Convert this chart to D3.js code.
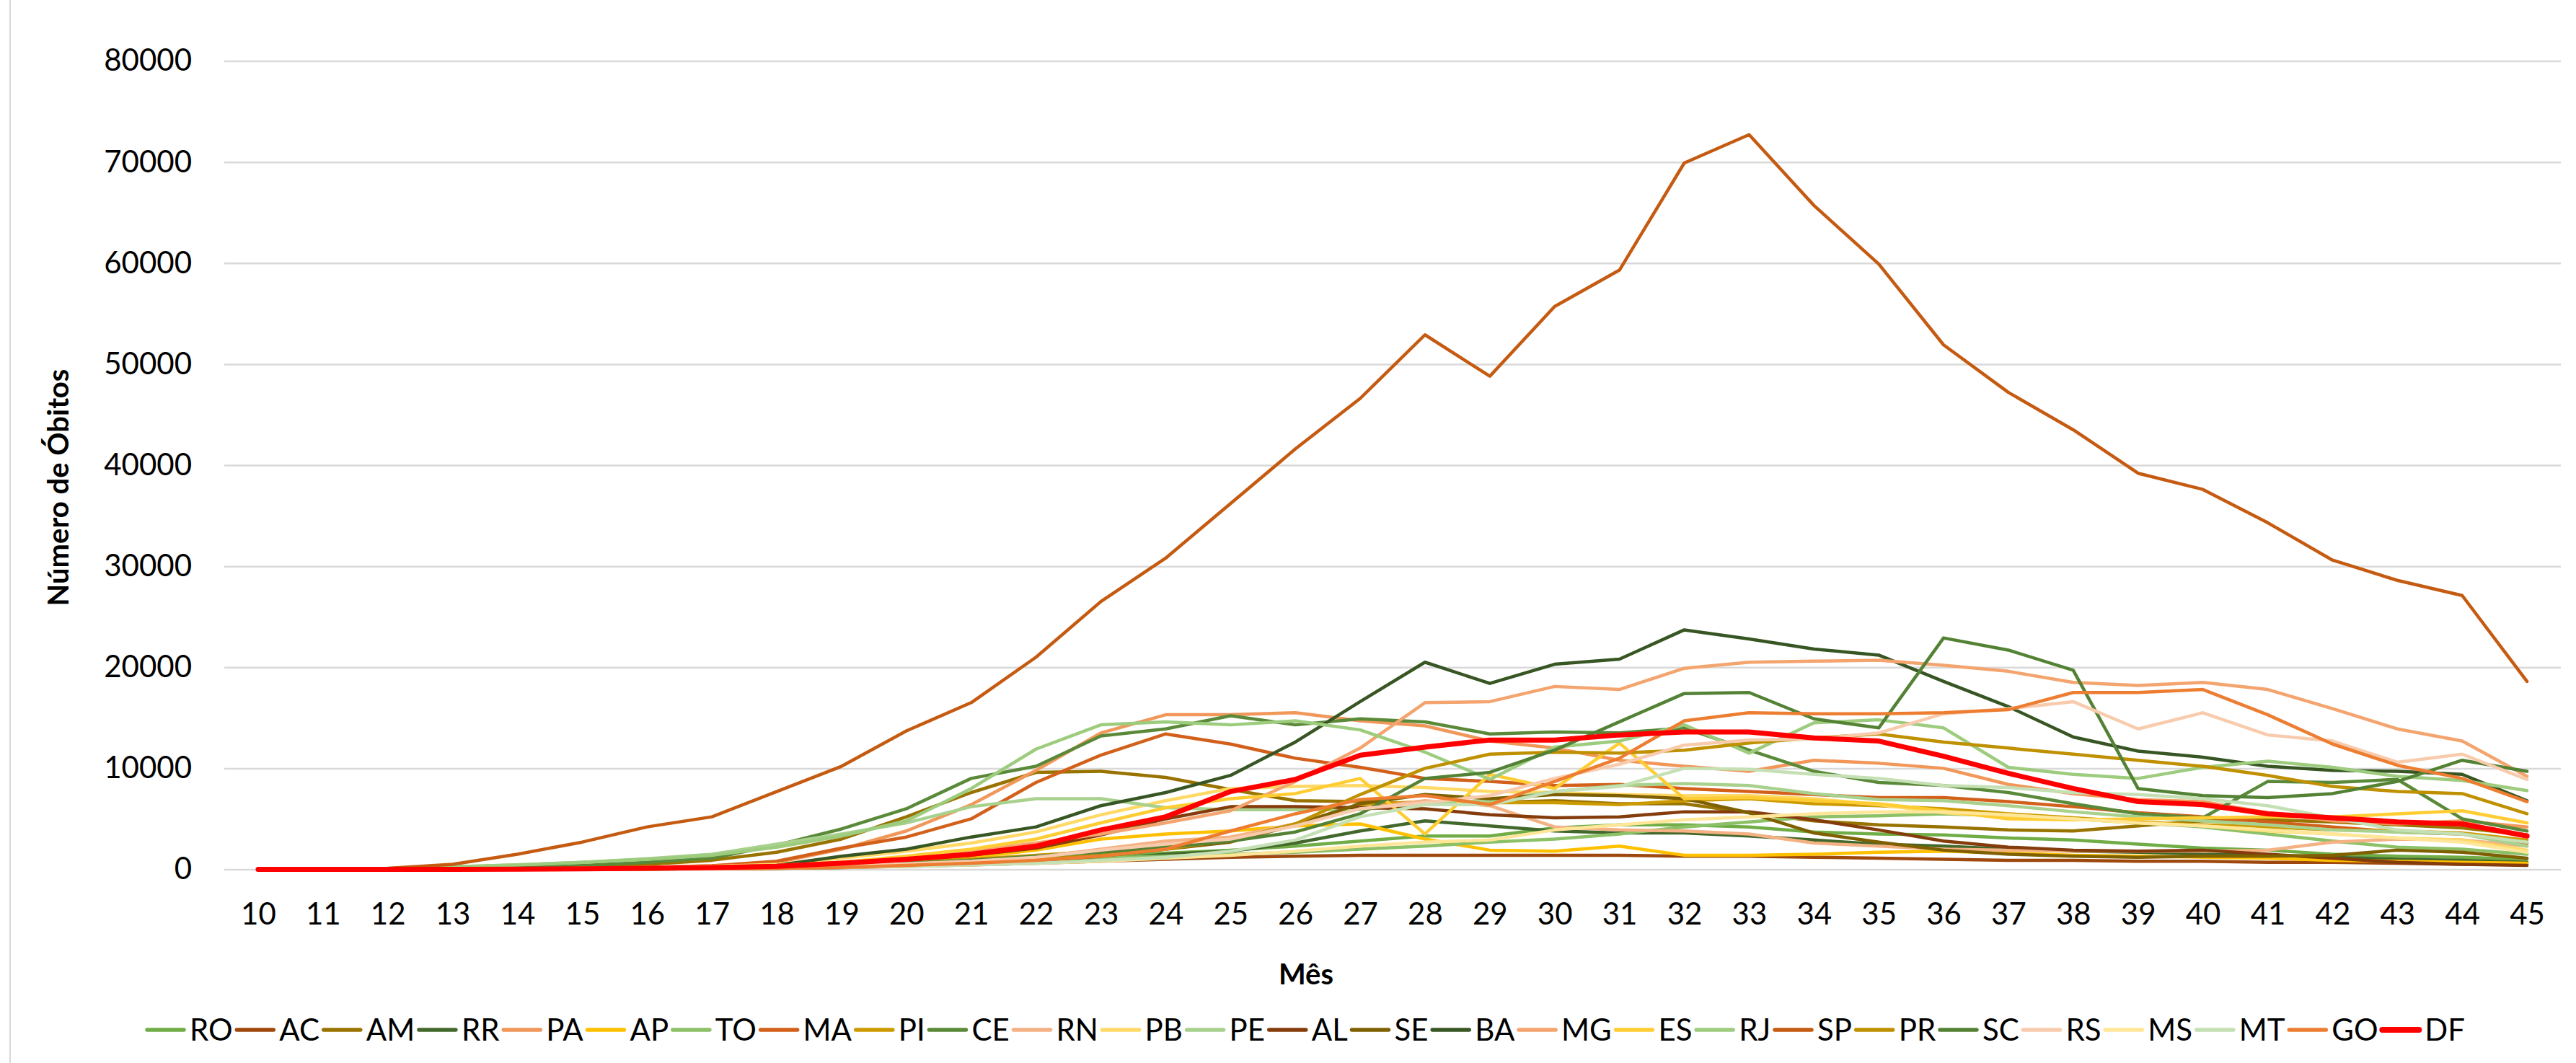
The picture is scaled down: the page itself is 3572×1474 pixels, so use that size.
<!DOCTYPE html>
<html>
<head>
<meta charset="utf-8">
<script src="https://cdn.jsdelivr.net/npm/d3@7"></script>
<style>
  body { margin: 0; background: #ffffff; }
  text { font-family: Lato, "Open Sans", sans-serif; fill: #000000; }
</style>
</head>
<body>
<div id="chart"></div>
<script>
// Categories (month index)
const months = ["10", "11", "12", "13", "14", "15", "16", "17", "18", "19",
  "20", "21", "22", "23", "24", "25", "26", "27", "28", "29", "30", "31",
  "32", "33", "34", "35", "36", "37", "38", "39", "40", "41", "42", "43",
  "44", "45"];

const yTicks = [0, 10000, 20000, 30000, 40000, 50000, 60000, 70000, 80000];

const states = ["RO", "AC", "AM", "RR", "PA", "AP", "TO", "MA", "PI", "CE",
  "RN", "PB", "PE", "AL", "SE", "BA", "MG", "ES", "RJ", "SP", "PR", "SC",
  "RS", "MS", "MT", "GO", "DF"];

// Deaths per month, one array per state (months 10..45)
const RO = [0, 0, 0, 10, 20, 40, 80, 120, 200, 350, 600, 800, 1000, 1300, 1600, 1900, 2300, 2800, 3300, 3300, 4100, 4400, 4400, 4200, 3700, 3500, 3400, 3100, 2900, 2500, 2100, 1900, 1500, 1300, 1200, 1000];
const AC = [0, 0, 0, 0, 10, 20, 40, 70, 110, 180, 300, 450, 600, 800, 1000, 1200, 1300, 1400, 1400, 1400, 1400, 1400, 1300, 1300, 1200, 1100, 1000, 900, 900, 800, 800, 700, 700, 600, 500, 500];
const AM = [0, 0, 50, 100, 200, 300, 500, 900, 1700, 3000, 5200, 7600, 9600, 9700, 9100, 7900, 6800, 6700, 6500, 6600, 6800, 6500, 6500, 5600, 4800, 4400, 4200, 3900, 3800, 4300, 4800, 4900, 4700, 4400, 4100, 3400];
const RR = [0, 0, 0, 0, 10, 20, 40, 70, 120, 250, 400, 550, 700, 900, 1500, 1800, 2600, 3800, 4800, 4300, 3800, 3600, 3600, 3300, 2900, 2500, 2300, 2000, 1800, 1700, 1500, 1400, 1200, 1000, 900, 700];
const PA = [0, 0, 0, 20, 50, 100, 200, 350, 700, 2000, 3800, 6400, 9800, 13500, 15300, 15300, 15500, 14700, 14200, 12700, 12000, 10800, 10200, 9700, 10800, 10500, 10000, 8400, 7500, 6900, 6700, 5600, 4800, 4500, 4800, 4200];
const AP = [0, 0, 0, 0, 10, 30, 60, 100, 200, 450, 800, 1200, 1900, 3000, 3500, 3800, 4300, 4500, 3000, 1900, 1800, 2300, 1400, 1400, 1500, 1700, 1800, 1600, 1400, 1300, 1200, 1100, 900, 800, 700, 600];
const TO = [0, 0, 10, 30, 50, 80, 120, 180, 250, 350, 500, 700, 900, 1100, 1300, 1500, 1700, 2000, 2300, 2700, 3000, 3500, 4200, 4700, 5200, 5300, 5500, 5300, 5000, 4600, 4200, 3500, 2800, 2200, 2000, 1500];
const MA = [0, 0, 0, 20, 50, 100, 200, 350, 800, 2100, 3200, 5000, 8600, 11300, 13400, 12400, 11000, 10100, 9000, 8700, 8300, 8400, 8000, 7700, 7400, 7100, 7100, 6700, 6200, 5600, 5200, 4700, 4200, 3700, 3500, 2600];
const PI = [0, 0, 0, 10, 20, 40, 80, 130, 220, 400, 700, 1000, 1400, 1800, 2300, 3100, 4500, 6400, 6700, 6600, 6600, 6400, 6800, 7000, 6500, 6300, 6000, 5500, 5100, 4700, 4400, 4200, 3900, 3800, 3600, 2900];
const CE = [0, 0, 30, 100, 200, 400, 700, 1100, 2400, 4000, 6000, 9000, 10200, 13200, 13900, 15200, 14300, 14900, 14600, 13400, 13600, 13500, 14000, 11800, 9700, 8600, 8300, 7600, 6500, 5500, 5100, 8700, 8600, 8900, 5000, 3800];
const RN = [0, 0, 0, 10, 20, 40, 70, 110, 180, 300, 500, 800, 1200, 2000, 2800, 3200, 4500, 6000, 6800, 6300, 4200, 3900, 3800, 3500, 2600, 2300, 2000, 1900, 1800, 1800, 1800, 1900, 2700, 3000, 2900, 2300];
const PB = [0, 0, 0, 20, 50, 100, 180, 300, 500, 1100, 1800, 2600, 3700, 5400, 6800, 8000, 8200, 8300, 8100, 7700, 7600, 7400, 7300, 7300, 7000, 6400, 5600, 5200, 5000, 4600, 4300, 3800, 3500, 3100, 2900, 1900];
const PE = [0, 0, 50, 250, 450, 700, 1050, 1500, 2500, 3500, 4600, 6200, 7000, 7000, 6100, 5900, 5900, 5900, 6500, 6800, 7700, 8300, 8500, 8300, 7500, 6900, 6800, 6300, 5700, 5200, 4800, 4400, 3900, 3700, 3500, 2300];
const AL = [0, 0, 0, 10, 20, 40, 80, 150, 250, 500, 900, 1400, 2100, 3400, 5000, 6200, 6200, 6100, 6000, 5400, 5100, 5200, 5700, 5700, 4900, 3900, 2800, 2200, 1900, 1800, 1900, 1500, 1100, 700, 500, 400];
const SE = [0, 0, 0, 0, 10, 20, 40, 60, 100, 200, 350, 500, 800, 1300, 2000, 2700, 4400, 6500, 7400, 7000, 7400, 7300, 7000, 5600, 3600, 2700, 1900, 1500, 1300, 1200, 1300, 1300, 1400, 1900, 1700, 1100];
const BA = [0, 0, 0, 10, 30, 60, 100, 200, 400, 1300, 2000, 3200, 4200, 6300, 7600, 9300, 12600, 16600, 20500, 18400, 20300, 20800, 23700, 22800, 21800, 21200, 18600, 16100, 13100, 11700, 11100, 10200, 9800, 9700, 9400, 6800];
const MG = [0, 0, 0, 20, 50, 100, 150, 250, 400, 700, 1200, 1800, 2600, 3500, 4600, 5800, 8700, 12000, 16500, 16600, 18100, 17800, 19900, 20500, 20600, 20700, 20200, 19600, 18500, 18200, 18500, 17800, 15900, 13900, 12700, 9200];
const ES = [0, 0, 0, 10, 30, 60, 120, 200, 350, 700, 1300, 2000, 3000, 4600, 6100, 7000, 7500, 9000, 3500, 9400, 8000, 12500, 7000, 7100, 6800, 6500, 5800, 5000, 4900, 5000, 5100, 5200, 5200, 5500, 5800, 4600];
const RJ = [0, 0, 50, 250, 450, 700, 1000, 1400, 2200, 3300, 4800, 8000, 11900, 14300, 14600, 14300, 14700, 13800, 11600, 8900, 12100, 12700, 14300, 11500, 14500, 14800, 14000, 10100, 9400, 9000, 10100, 10700, 10100, 9200, 8800, 7800];
const SP = [0, 0, 100, 500, 1500, 2700, 4200, 5200, 7700, 10200, 13700, 16500, 21000, 26500, 30800, 36200, 41600, 46600, 52900, 48800, 55700, 59300, 69900, 72700, 65700, 59900, 51900, 47200, 43500, 39200, 37600, 34300, 30600, 28600, 27100, 18600];
const PR = [0, 0, 0, 10, 20, 40, 70, 100, 150, 250, 400, 650, 1000, 1400, 2000, 2900, 4500, 7400, 10000, 11400, 11600, 11500, 11800, 12500, 13000, 13400, 12600, 12000, 11400, 10800, 10200, 9300, 8200, 7700, 7500, 5500];
const SC = [0, 0, 0, 10, 30, 60, 100, 150, 250, 400, 600, 900, 1300, 1700, 2200, 2800, 3700, 5500, 9000, 9600, 11800, 14600, 17400, 17500, 14900, 14000, 22900, 21700, 19700, 8000, 7300, 7100, 7500, 8700, 10800, 9700];
const RS = [0, 0, 0, 10, 20, 40, 80, 120, 200, 350, 550, 800, 1200, 1900, 2500, 3000, 4300, 6000, 6600, 7300, 9000, 10400, 12300, 12800, 12900, 13500, 15400, 15900, 16600, 13900, 15500, 13300, 12700, 10600, 11400, 8900];
const MS = [0, 0, 0, 0, 10, 20, 40, 70, 120, 200, 300, 450, 600, 800, 1100, 1400, 1800, 2300, 2700, 2900, 3900, 4400, 4900, 5200, 5500, 5700, 5700, 5400, 5000, 4600, 4300, 3900, 3500, 3100, 2700, 1700];
const MT = [0, 0, 0, 10, 20, 40, 70, 110, 170, 250, 300, 450, 600, 900, 1200, 1800, 2900, 5200, 6400, 6400, 7700, 8200, 10000, 9900, 9400, 9000, 8300, 8100, 7600, 7400, 7000, 6300, 5100, 3900, 3500, 2700];
const GO = [0, 0, 0, 0, 10, 20, 40, 70, 100, 200, 400, 600, 900, 1300, 2000, 3800, 5500, 6900, 7300, 6400, 8700, 11000, 14700, 15500, 15400, 15400, 15500, 15800, 17500, 17500, 17800, 15300, 12400, 10300, 9000, 6700];
const DF = [0, 0, 0, 0, 20, 50, 100, 180, 300, 600, 1000, 1500, 2300, 3900, 5200, 7700, 8900, 11300, 12100, 12800, 12800, 13300, 13600, 13600, 13000, 12700, 11200, 9500, 8000, 6700, 6400, 5500, 5100, 4700, 4500, 3300];

const valuesByState = { RO, AC, AM, RR, PA, AP, TO, MA, PI, CE, RN, PB, PE,
  AL, SE, BA, MG, ES, RJ, SP, PR, SC, RS, MS, MT, GO, DF };

const stateColors = {
  RO: "#70AD47", AC: "#9E480E", AM: "#997300", RR: "#43682B", PA: "#F1975A",
  AP: "#FFC000", TO: "#8CC168", MA: "#D2601A", PI: "#CC9A00", CE: "#5A8A39",
  RN: "#F4B183", PB: "#FFD966", PE: "#A9D18E", AL: "#843C0C", SE: "#7F6000",
  BA: "#375623", MG: "#F4A46E", ES: "#FFCD33", RJ: "#9DCC7E", SP: "#C55A11",
  PR: "#BF9000", SC: "#548235", RS: "#F8CBAD", MS: "#FFE699", MT: "#C5E0B4",
  GO: "#ED7D31", DF: "#FF0000"
};

const width = 3572;
const height = 1474;
const plotLeft = 313;
const plotRight = 3549;

const svg = d3
  .select("#chart")
  .append("svg")
  .attr("width", width)
  .attr("height", height);

// Chart area border (left edge only is visible in the crop)
svg
  .append("line")
  .attr("x1", 14)
  .attr("x2", 14)
  .attr("y1", 0)
  .attr("y2", height)
  .attr("stroke", "#D9D9D9")
  .attr("stroke-width", 2);

const x = d3
  .scalePoint()
  .domain(months)
  .range([plotLeft, plotRight])
  .padding(0.5);

const y = d3.scaleLinear().domain([0, 80000]).range([1205.5, 84.5]);

// Horizontal gridlines
svg
  .append("g")
  .attr("transform", `translate(${plotLeft - 2},0)`)
  .call(
    d3.axisLeft(y).tickValues(yTicks).tickSize(-(plotRight - plotLeft + 4)).tickFormat("")
  )
  .call((g) => g.select(".domain").remove())
  .selectAll("line")
  .attr("stroke", "#D9D9D9")
  .attr("stroke-width", 2.5);

// Y axis labels
svg
  .append("g")
  .attr("transform", `translate(${plotLeft - 2},0)`)
  .call(d3.axisLeft(y).tickValues(yTicks).tickSize(0).tickPadding(45).tickFormat(d3.format("d")))
  .call((g) => g.select(".domain").remove())
  .selectAll("text")
  .attr("font-size", "42px")
  .attr("font-family", "Lato, sans-serif")
  .attr("fill", "#000");

// X axis labels
svg
  .append("g")
  .attr("transform", "translate(0,1205)")
  .call(d3.axisBottom(x).tickSize(0).tickPadding(47))
  .call((g) => g.select(".domain").remove())
  .selectAll("text")
  .attr("font-size", "42px")
  .attr("font-family", "Lato, sans-serif")
  .attr("fill", "#000");

// Lines
const line = d3
  .line()
  .x((d, i) => x(months[i]))
  .y((d) => y(d));

svg
  .append("g")
  .selectAll("path")
  .data(states)
  .enter()
  .append("path")
  .attr("d", (s) => line(valuesByState[s]))
  .attr("fill", "none")
  .attr("stroke", (s) => stateColors[s])
  .attr("stroke-width", (s) => (s === "DF" ? 7 : 4.5))
  .attr("stroke-linejoin", "round")
  .attr("stroke-linecap", "round");

// Axis titles
svg
  .append("text")
  .attr("transform", "translate(81,676) rotate(-90)")
  .attr("text-anchor", "middle")
  .attr("dy", "0.35em")
  .attr("font-size", "40px")
  .attr("font-weight", "bold")
  .text("Número de Óbitos");

svg
  .append("text")
  .attr("x", 1811)
  .attr("y", 1365)
  .attr("text-anchor", "middle")
  .attr("font-size", "40px")
  .attr("font-weight", "bold")
  .text("Mês");

// Legend: spread entries across 201..3418
const legendLeft = 201;
const legendRight = 3418;
const legendY = 1428;
const sampleW = 57;
const sampleGap = 5;

const legend = svg.append("g");
const items = legend
  .selectAll("g")
  .data(states)
  .enter()
  .append("g");

items
  .append("text")
  .attr("font-size", "42px")
  .attr("dy", "0.35em")
  .text((s) => s);

const textWidths = [];
items.select("text").each(function () {
  textWidths.push(this.getComputedTextLength());
});
const natural = d3.sum(textWidths) + states.length * (sampleW + sampleGap);
const spacing = (legendRight - legendLeft - natural) / (states.length - 1);

let cursor = legendLeft;
items.each(function (s, i) {
  const g = d3.select(this).attr("transform", `translate(${cursor},${legendY})`);
  g.append("line")
    .attr("x1", 3)
    .attr("x2", sampleW - 3)
    .attr("y1", 0)
    .attr("y2", 0)
    .attr("stroke", stateColors[s])
    .attr("stroke-width", s === "DF" ? 8 : 5.5)
    .attr("stroke-linecap", "round");
  g.select("text").attr("x", sampleW + sampleGap);
  cursor += sampleW + sampleGap + textWidths[i] + spacing;
});
</script>
</body>
</html>
